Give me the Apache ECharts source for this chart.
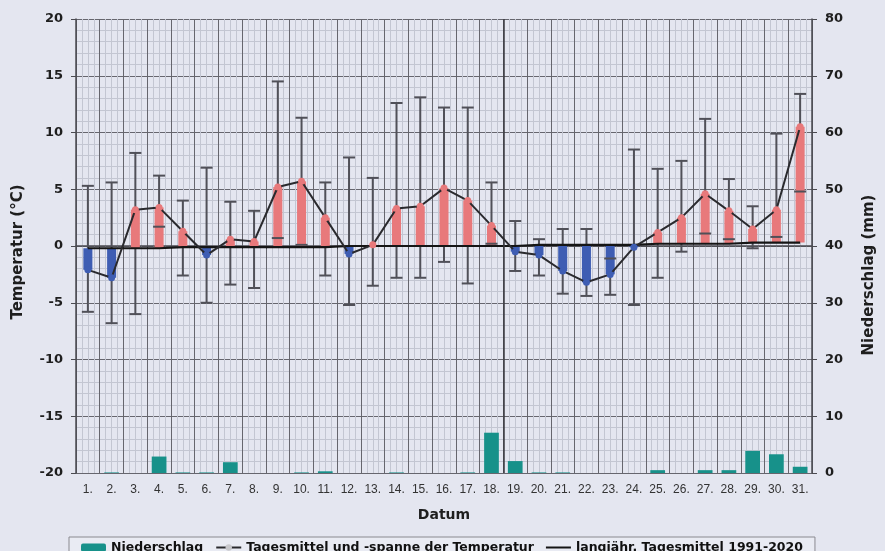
<!DOCTYPE html>
<html>
<head>
<meta charset="utf-8">
<script src="https://cdn.jsdelivr.net/npm/echarts@6/dist/echarts.min.js"></script>
<style>
html,body{margin:0;padding:0;background:#e4e6f0;}
#c{width:885px;height:551px;}
</style>
</head>
<body>
<div id="c"></div>
<script>
// ---- data ----
var days = ['1.','2.','3.','4.','5.','6.','7.','8.','9.','10.','11.','12.','13.','14.','15.','16.','17.','18.','19.','20.','21.','22.','23.','24.','25.','26.','27.','28.','29.','30.','31.'];
var tMean = [-2.1,-2.8,3.2,3.4,1.3,-0.8,0.6,0.4,5.2,5.7,2.5,-0.7,0.1,3.3,3.5,5.1,4.0,1.8,-0.5,-0.8,-2.2,-3.2,-2.5,-0.1,1.2,2.5,4.6,3.1,1.5,3.2,10.5];
var tMax  = [5.3,5.6,8.2,6.2,4.0,6.9,3.9,3.1,14.5,11.3,5.6,7.8,6.0,12.6,13.1,12.2,12.2,5.6,2.2,0.6,1.5,1.5,-1.1,8.5,6.8,7.5,11.2,5.9,3.5,9.9,13.4];
var tMin  = [-5.8,-6.8,-6.0,1.7,-2.6,-5.0,-3.4,-3.7,0.7,0.1,-2.6,-5.2,-3.5,-2.8,-2.8,-1.4,-3.3,0.2,-2.2,-2.6,-4.2,-4.4,-4.3,-5.2,-2.8,-0.5,1.1,0.6,-0.2,0.8,4.8];
var tLong = [-0.2,-0.2,-0.2,-0.2,-0.1,-0.1,-0.1,-0.1,-0.1,-0.1,-0.1,0.0,0.0,0.0,0.0,0.0,0.0,0.0,0.0,0.1,0.1,0.1,0.1,0.1,0.2,0.2,0.2,0.2,0.3,0.3,0.3];
var precip = [0,0.1,0,2.9,0.1,0.1,1.9,0,0,0.1,0.3,0,0,0.1,0,0,0.1,7.1,2.1,0.1,0.1,0,0,0,0.5,0,0.5,0.5,3.9,3.3,1.1];
var tempTicks = {min:-20, max:20, step:5};
var precTicks = {min:0, max:80, step:10};
var midBoundary = 18;

var RED = '#e8797b', BLUE = '#3e5db3', TEAL = '#17918a';

var rangeData = days.map(function(d,i){ return [i, tMean[i], tLong[i], tMin[i], tMax[i]]; });

var chart = echarts.init(document.getElementById('c'));
var boldFont = {fontFamily:'DejaVu Sans', fontWeight:'bold', color:'#1e1e1e'};

chart.setOption({
  backgroundColor:'#e4e6f0',
  animation:false,
  grid:{left:76, right:70, top:19, bottom:78},
  legend:{
    left:69, top:537,
    padding:[4,12,6,12],
    itemGap:12, itemWidth:25, itemHeight:8,
    borderColor:'#8a8a90', borderWidth:1,
    backgroundColor:'#e9ebf3',
    textStyle:{fontFamily:'DejaVu Sans', fontWeight:'bold', fontSize:12.5, color:'#111'},
    data:['Niederschlag','Tagesmittel und -spanne der Temperatur',
      {name:'langjähr. Tagesmittel 1991-2020', icon:'path://M0,0 L25,0 L25,2 L0,2 Z', itemStyle:{color:'#151515'}}]
  },
  xAxis:[{
    type:'category', data:days, boundaryGap:true,
    axisLine:{show:true, lineStyle:{color:'#4a4a50', width:1.5}},
    axisTick:{show:true, length:3, lineStyle:{color:'#4a4a50'}},
    axisLabel:{interval:0, margin:11, fontFamily:'Liberation Sans', fontSize:12, color:'#333'},
    splitLine:{show:false},
    name:'Datum', nameLocation:'middle', nameGap:35,
    nameTextStyle:Object.assign({fontSize:14}, boldFont)
  },{
    type:'value', min:0, max:days.length, interval:1, position:'top',
    axisLine:{show:false}, axisTick:{show:false}, axisLabel:{show:false},
    splitLine:{show:true, lineStyle:{color:'#66666e', width:1}},
    minorTick:{show:false, splitNumber:4},
    minorSplitLine:{show:true, lineStyle:{color:'#c3c6d2', width:1}}
  }],
  yAxis:[{
    type:'value', min:tempTicks.min, max:tempTicks.max, interval:tempTicks.step,
    axisLine:{show:true, lineStyle:{color:'#4a4a50', width:1.5}},
    axisTick:{show:true, inside:false, length:5, lineStyle:{color:'#4a4a50'}},
    axisLabel:Object.assign({margin:13, fontSize:13}, boldFont),
    splitLine:{show:true, lineStyle:{color:'#66666e', width:1}},
    minorTick:{show:false, splitNumber:5},
    minorSplitLine:{show:true, lineStyle:{color:'#c3c6d2', width:1}},
    name:'Temperatur (°C)', nameLocation:'middle', nameGap:50,
    nameTextStyle:Object.assign({fontSize:15, padding:[0,12,0,0]}, boldFont)
  },{
    type:'value', min:precTicks.min, max:precTicks.max, interval:precTicks.step, position:'right',
    axisLine:{show:true, lineStyle:{color:'#4a4a50', width:1.5}},
    axisTick:{show:true, inside:false, length:5, lineStyle:{color:'#4a4a50'}},
    axisLabel:Object.assign({margin:13, fontSize:13}, boldFont),
    splitLine:{show:false},
    name:'Niederschlag (mm)', nameLocation:'middle', nameGap:50,
    nameTextStyle:Object.assign({fontSize:15, padding:[0,58,0,0]}, boldFont)
  }],
  series:[{
    name:'Niederschlag', type:'bar', yAxisIndex:1, data:precip,
    barWidth:'62%', itemStyle:{color:TEAL}, z:2
  },{
    name:'range', type:'custom', data:rangeData, z:3,
    encode:{x:0, y:[1,3,4]},
    renderItem:function(params, api){
      var i = api.value(0);
      var pM = api.coord([i, api.value(1)]);
      var pL = api.coord([i, api.value(2)]);
      var pLo = api.coord([i, api.value(3)]);
      var pHi = api.coord([i, api.value(4)]);
      var x = pM[0], bw = 9, cw = 12;
      var up = api.value(1) >= api.value(2);
      var wStyle = {stroke:'#505058', lineWidth:2};
      return {type:'group', children:[
        {type:'line', shape:{x1:x, y1:pLo[1], x2:x, y2:pHi[1]}, style:wStyle},
        {type:'rect', shape:{x:x-bw/2, y:Math.min(pM[1],pL[1]), width:bw, height:Math.abs(pM[1]-pL[1])},
          style:{fill: up ? RED : BLUE}},
        {type:'line', shape:{x1:x-cw/2, y1:pLo[1], x2:x+cw/2, y2:pLo[1]}, style:wStyle},
        {type:'line', shape:{x1:x-cw/2, y1:pHi[1], x2:x+cw/2, y2:pHi[1]}, style:wStyle}
      ]};
    }
  },{
    name:'langjähr. Tagesmittel 1991-2020', type:'line', data:tLong,
    symbol:'none', lineStyle:{color:'#151515', width:2.2}, itemStyle:{color:'#151515'}, z:4
  },{
    name:'Tagesmittel und -spanne der Temperatur', type:'line',
    data:tMean.map(function(v,i){ return {value:v, itemStyle:{color: v>=tLong[i] ? RED : BLUE}}; }),
    symbol:'circle', symbolSize:7,
    lineStyle:{color:'#2a2a2e', width:2}, itemStyle:{color:'#c8c8cc', borderColor:'#555', borderWidth:0}, z:5
  },{
    name:'mid', type:'line', xAxisIndex:1, yAxisIndex:0, data:[], z:2,
    markLine:{silent:true, symbol:'none', label:{show:false},
      lineStyle:{color:'#3a3a40', width:1.5, type:'solid'},
      data:[{xAxis:midBoundary}]}
  }]
});
</script>
</body>
</html>
